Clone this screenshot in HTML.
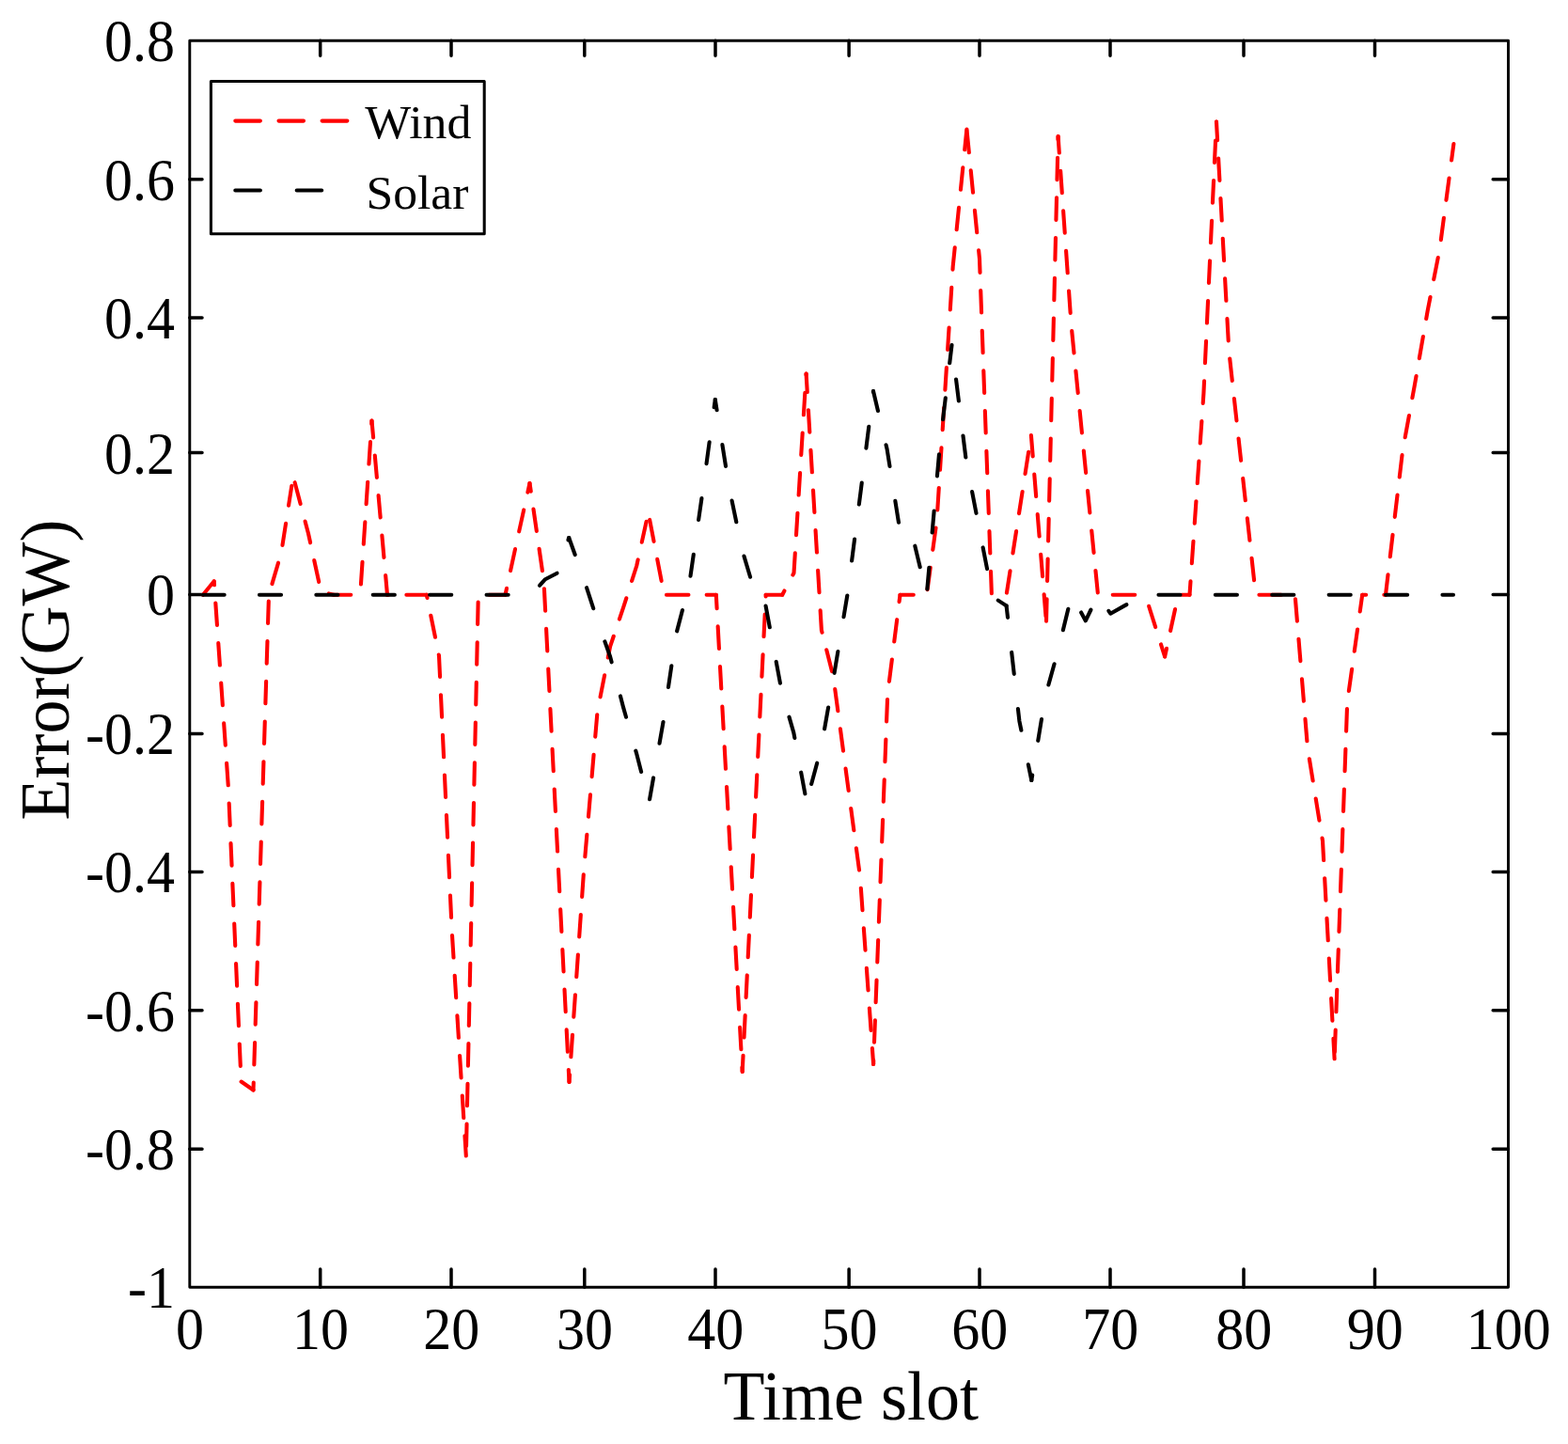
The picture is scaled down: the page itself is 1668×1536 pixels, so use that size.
<!DOCTYPE html>
<html lang="en">
<head>
<meta charset="utf-8">
<title>Forecast error of wind and solar</title>
<style>
html,body{margin:0;padding:0;background:#fff;}
body{width:1668px;height:1536px;overflow:hidden;}
svg{display:block;}
text{font-family:"Liberation Serif",serif;fill:#000;}
.tk{font-size:60px;}
.lb{font-size:72px;}
.lg{font-size:52.5px;}
.ax{fill:none;stroke:#000;stroke-width:2.9;stroke-linecap:round;stroke-linejoin:round;}
.wind{fill:none;stroke:#ff0000;stroke-width:4.1;stroke-linecap:round;stroke-linejoin:round;stroke-dasharray:23.5 19.2;}
.solar{fill:none;stroke:#000;stroke-width:4.1;stroke-linecap:round;stroke-linejoin:round;stroke-dasharray:23.1 37.3;}
</style>
</head>
<body>
<svg width="1668" height="1536" viewBox="0 0 1668 1536">
<rect x="0" y="0" width="1668" height="1536" fill="#ffffff"/>
<rect class="ax" x="201.8" y="43.2" width="1402.7" height="1326.1"/>
<path class="ax" style="stroke-width:3.5" d="M340.7,43.2v16.0M340.7,1369.3v-19.4M480.0,43.2v16.0M480.0,1369.3v-19.4M621.8,43.2v16.0M621.8,1369.3v-19.4M761.0,43.2v16.0M761.0,1369.3v-19.4M903.1,43.2v16.0M903.1,1369.3v-19.4M1042.0,43.2v16.0M1042.0,1369.3v-19.4M1181.0,43.2v16.0M1181.0,1369.3v-19.4M1323.0,43.2v16.0M1323.0,1369.3v-19.4M1462.5,43.2v16.0M1462.5,1369.3v-19.4M201.8,190.7h13.2M1604.5,190.7h-16.3M201.8,337.9h13.2M1604.5,337.9h-16.3M201.8,481.6h13.2M1604.5,481.6h-16.3M201.8,632.4h13.2M1604.5,632.4h-16.3M201.8,780.4h13.2M1604.5,780.4h-16.3M201.8,927.4h13.2M1604.5,927.4h-16.3M201.8,1074.7h13.2M1604.5,1074.7h-16.3M201.8,1222.2h13.2M1604.5,1222.2h-16.3"/>
<g class="tk" text-anchor="end">
<text transform="translate(185.9 65.1) scale(1 1.07)">0.8</text>
<text transform="translate(185.9 212.6) scale(1 1.07)">0.6</text>
<text transform="translate(185.9 359.8) scale(1 1.07)">0.4</text>
<text transform="translate(185.9 503.5) scale(1 1.07)">0.2</text>
<text transform="translate(185.9 654.3) scale(1 1.07)">0</text>
<text transform="translate(185.9 802.3) scale(1 1.07)">-0.2</text>
<text transform="translate(185.9 949.3) scale(1 1.07)">-0.4</text>
<text transform="translate(185.9 1096.6) scale(1 1.07)">-0.6</text>
<text transform="translate(185.9 1244.1) scale(1 1.07)">-0.8</text>
<text transform="translate(185.9 1391.2) scale(1 1.07)">-1</text>
</g>
<g class="tk" text-anchor="middle">
<text transform="translate(202.1 1435.3) scale(1 1.07)">0</text>
<text transform="translate(341.0 1435.3) scale(1 1.07)">10</text>
<text transform="translate(480.3 1435.3) scale(1 1.07)">20</text>
<text transform="translate(622.1 1435.3) scale(1 1.07)">30</text>
<text transform="translate(761.3 1435.3) scale(1 1.07)">40</text>
<text transform="translate(903.4 1435.3) scale(1 1.07)">50</text>
<text transform="translate(1042.3 1435.3) scale(1 1.07)">60</text>
<text transform="translate(1181.3 1435.3) scale(1 1.07)">70</text>
<text transform="translate(1323.3 1435.3) scale(1 1.07)">80</text>
<text transform="translate(1462.8 1435.3) scale(1 1.07)">90</text>
<text transform="translate(1604.8 1435.3) scale(1 1.07)">100</text>
</g>
<text class="lb" text-anchor="middle" transform="translate(905.3 1510) scale(1 1.03)">Time slot</text>
<text class="lb" text-anchor="middle" transform="translate(72.6 712.5) rotate(-90) scale(1 1.025)">Error(GW)</text>
<g>
<polyline class="wind" stroke-dashoffset="1.11" points="215.9,632.7 227.7,618.3"/>
<polyline class="wind" stroke-dashoffset="19.47" points="227.7,618.3 243.0,839.0 256.5,1150.5"/>
<polyline class="wind" stroke-dashoffset="42.60" points="256.5,1150.5 269.5,1159.5"/>
<polyline class="wind" stroke-dashoffset="15.61" points="269.5,1159.5 286.0,632.7"/>
<polyline class="wind" stroke-dashoffset="30.66" points="286.0,632.7 299.2,588.0 310.3,516.8"/>
<polyline class="wind" stroke-dashoffset="41.87" points="313.4,512.4 328.0,567.5 341.5,629.5 355.0,632.7"/>
<polyline class="wind" stroke-dashoffset="5.25" points="355.0,632.7 383.2,632.7"/>
<polyline class="wind" stroke-dashoffset="31.34" points="383.2,632.7 395.5,447.5"/>
<polyline class="wind" stroke-dashoffset="5.54" points="395.5,447.5 412.0,632.7"/>
<polyline class="wind" stroke-dashoffset="22.35" points="412.0,632.7 453.8,632.7"/>
<polyline class="wind" stroke-dashoffset="20.23" points="453.8,632.7 467.0,697.5 480.7,990.0 495.8,1229.5"/>
<polyline class="wind" stroke-dashoffset="32.17" points="495.8,1229.5 508.8,632.7"/>
<polyline class="wind" stroke-dashoffset="31.31" points="508.8,632.7 537.5,632.7"/>
<polyline class="wind" stroke-dashoffset="16.50" points="537.5,632.7 550.0,575.0 563.5,514.0"/>
<polyline class="wind" stroke-dashoffset="14.80" points="563.5,514.0 578.5,618.0 605.5,1151.0"/>
<polyline class="wind" stroke-dashoffset="15.89" points="605.5,1151.0 621.0,927.0 635.5,757.0 649.1,687.6 663.2,645.9 677.2,602.0 687.6,554.8"/>
<polyline class="wind" stroke-dashoffset="42.61" points="691.1,552.8 706.5,632.7"/>
<polyline class="wind" stroke-dashoffset="40.25" points="706.5,632.7 761.8,632.7"/>
<polyline class="wind" stroke-dashoffset="8.95" points="761.8,632.7 789.7,1140.0"/>
<polyline class="wind" stroke-dashoffset="6.20" points="789.7,1140.0 814.7,632.7"/>
<polyline class="wind" stroke-dashoffset="1.71" points="814.7,632.7 832.2,632.7"/>
<polyline class="wind" stroke-dashoffset="18.74" points="832.2,632.7 844.5,609.5 857.6,397.5"/>
<polyline class="wind" stroke-dashoffset="3.92" points="857.6,397.5 873.9,670.3 886.5,720.0 915.0,933.0 929.1,1132.0"/>
<polyline class="wind" stroke-dashoffset="19.45" points="929.1,1132.0 944.2,738.6 957.5,632.7"/>
<polyline class="wind" stroke-dashoffset="9.25" points="957.5,632.7 985.8,632.7"/>
<polyline class="wind" stroke-dashoffset="37.07" points="985.8,632.7 996.6,553.3 1013.7,283.4 1028.4,137.5"/>
<polyline class="wind" stroke-dashoffset="41.28" points="1028.4,137.5 1042.0,275.3 1054.9,632.7"/>
<polyline class="wind" stroke-dashoffset="24.98" points="1054.9,632.7 1070.6,632.7"/>
<polyline class="wind" stroke-dashoffset="40.54" points="1070.6,632.7 1096.9,463.0"/>
<polyline class="wind" stroke-dashoffset="0.98" points="1096.9,463.0 1113.0,661.5"/>
<polyline class="wind" stroke-dashoffset="41.96" points="1113.0,661.5 1125.6,145.0"/>
<polyline class="wind" stroke-dashoffset="5.93" points="1125.6,145.0 1139.5,345.0 1168.0,632.7"/>
<polyline class="wind" stroke-dashoffset="26.95" points="1168.0,632.7 1218.3,632.7"/>
<polyline class="wind" stroke-dashoffset="30.06" points="1218.3,632.7 1239.1,698.5"/>
<polyline class="wind" stroke-dashoffset="14.55" points="1239.1,698.5 1253.4,632.7"/>
<polyline class="wind" stroke-dashoffset="39.19" points="1253.4,632.7 1265.5,632.7"/>
<polyline class="wind" stroke-dashoffset="9.15" points="1265.5,632.7 1280.4,418.7 1294.0,129.5"/>
<polyline class="wind" stroke-dashoffset="3.70" points="1294.0,129.5 1307.3,373.1 1335.8,632.7"/>
<polyline class="wind" stroke-dashoffset="39.05" points="1335.8,632.7 1377.6,632.7"/>
<polyline class="wind" stroke-dashoffset="38.19" points="1377.6,632.7 1391.0,795.7 1407.0,894.5 1419.6,1126.3"/>
<polyline class="wind" stroke-dashoffset="35.38" points="1419.6,1126.3 1433.2,746.8 1449.2,632.7"/>
<polyline class="wind" stroke-dashoffset="19.55" points="1449.2,632.7 1474.0,632.7"/>
<polyline class="wind" stroke-dashoffset="1.99" points="1474.0,632.7 1492.0,480.0 1504.7,410.6 1518.7,330.3 1531.5,265.1 1546.4,153.0"/>
</g>
<g>
<polyline class="solar" stroke-dashoffset="0.25" points="215.8,632.7 565.0,632.7"/>
<polyline class="solar" stroke-dashoffset="47.05" points="565.0,632.7 580.0,616.2 593.0,609.5 605.2,572.0"/>
<polyline class="solar" stroke-dashoffset="3.94" points="605.2,572.0 621.0,615.9 635.1,659.1 649.1,698.5 663.2,752.9 677.2,801.8 690.5,853.5"/>
<polyline class="solar" stroke-dashoffset="57.04" points="690.5,853.5 705.5,768.2 719.3,674.4 733.3,621.0 747.3,524.0 760.8,425.0"/>
<polyline class="solar" stroke-dashoffset="11.72" points="760.8,425.0 775.4,517.3 789.4,584.6 803.4,631.5"/>
<polyline class="solar" stroke-dashoffset="42.90" points="803.4,631.5 814.2,642.5 831.5,735.0 844.3,779.4 858.0,853.0"/>
<polyline class="solar" stroke-dashoffset="40.73" points="858.0,853.0 873.5,795.7 887.5,716.2 901.6,631.7 915.6,522.7 929.0,416.0"/>
<polyline class="solar" stroke-dashoffset="1.53" points="929.0,416.0 943.6,477.8 958.3,570.5 971.1,571.5 985.8,632.7"/>
<polyline class="solar" stroke-dashoffset="54.37" points="985.8,632.7 999.8,473.8 1012.5,367.0"/>
<polyline class="solar" stroke-dashoffset="23.53" points="1012.5,367.0 1027.9,491.1 1041.9,563.4 1055.9,634.8 1070.6,644.4"/>
<polyline class="solar" stroke-dashoffset="10.57" points="1070.6,644.4 1084.4,767.1 1097.3,830.0"/>
<polyline class="solar" stroke-dashoffset="17.67" points="1097.3,830.0 1112.0,740.6 1125.6,691.7 1140.0,632.7"/>
<polyline class="solar" stroke-dashoffset="39.09" points="1140.0,632.7 1154.8,660.3 1168.0,633.0"/>
<polyline class="solar" stroke-dashoffset="40.12" points="1168.0,633.0 1181.3,652.7 1196.1,644.4 1210.0,637.0 1224.0,632.7"/>
<polyline class="solar" stroke-dashoffset="51.95" points="1224.0,632.7 1546.0,632.7"/>
</g>
<rect x="224.4" y="86.4" width="290.8" height="162.4" fill="#fff" stroke="#000" stroke-width="3.05" stroke-linejoin="round"/>
<path d="M250.3,128.6h26.6M296.5,128.6h26.5M342.6,128.6h26.8" fill="none" stroke="#ff0000" stroke-width="4.1" stroke-linecap="round"/>
<path d="M250.3,202.5h26.6M315.7,202.5h26.5" fill="none" stroke="#000" stroke-width="4.1" stroke-linecap="round"/>
<text class="lg" transform="translate(388.3 147.3) scale(0.988 0.985)">Wind</text>
<text class="lg" transform="translate(389.5 221.7) scale(0.983 0.975)">Solar</text>
</svg>
</body>
</html>
